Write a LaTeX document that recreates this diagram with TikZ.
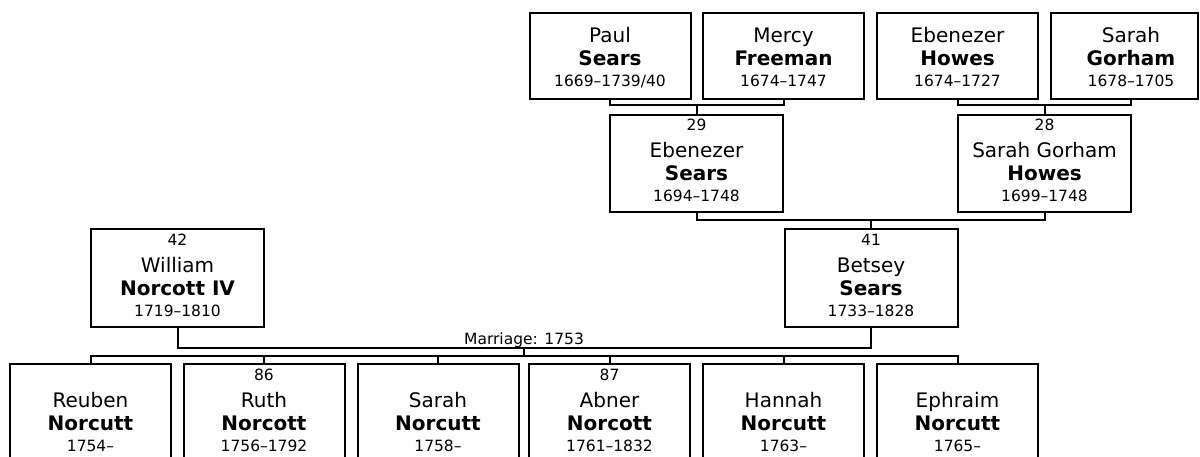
\documentclass[tikz,border=0pt]{standalone}
\usepackage{fontspec}
\setmainfont{DejaVu Sans}
\usepackage{tikz}

\newcommand{\smallsize}{\fontsize{15.5}{21}\selectfont}
\newcommand{\elder}[4][140pt]{\parbox[c][86pt][t]{#1}{\centering
		\fontsize{20}{23}\selectfont\rule{0pt}{29.5pt}#2\par
		\textbf{#3}\par
		\smallsize #4\par}}
\newcommand{\kin}[4]{\parbox[c][97pt][t]{150pt}{\centering
		\smallsize\rule{0pt}{16pt}#1\par
		\fontsize{20}{27}\selectfont #2\par
		\fontsize{20}{23}\selectfont\textbf{#3}\par
		\smallsize #4\par}}

\begin{document}
\begin{tikzpicture}[x=1pt,y=-1pt]
		\tikzset{person/.style={draw, line width=2pt, inner sep=0pt, minimum height=97pt, minimum width=173pt}}
		\tikzset{elderbox/.style={person, minimum height=86pt, minimum width=161pt}}
		\tikzset{childbox/.style={person, minimum width=161pt}}
		\tikzset{link/.style={line width=2pt}}
		\useasboundingbox (0,0) rectangle (1200,457);
		%grandparents
		\node[elderbox] (paul) at (610,56) {\elder{Paul}{Sears}{1669--1739/40}};
		\node[elderbox] (mercy) at (783.5,56) {\elder{Mercy}{Freeman}{1674--1747}};
		\node[elderbox] (ebenh) at (957.5,56) {\elder{Ebenezer}{Howes}{1674--1727}};
		\node[elderbox, minimum width=147pt] (sarahg) at (1124.5,56) {\hspace*{13pt}\elder[128pt]{Sarah}{Gorham}{1678--1705}};
		%parents
		\node[person] (ebens) at (696.5,163.5) {\kin{29}{Ebenezer}{Sears}{1694--1748}};
		\node[person] (sarahgh) at (1044.5,163.5) {\kin{28}{Sarah Gorham}{Howes}{1699--1748}};
		\node[person] (william) at (177.5,278) {\kin{42}{William}{Norcott IV}{1719--1810}};
		\node[person] (betsey) at (871,278) {\kin{41}{Betsey}{Sears}{1733--1828}};
		%children
		\node[childbox] (reuben) at (90.5,412.5) {\kin{}{Reuben}{Norcutt}{1754--}};
		\node[childbox] (ruth) at (264,412.5) {\kin{86}{Ruth}{Norcott}{1756--1792}};
		\node[childbox] (sarah) at (438,412.5) {\kin{}{Sarah}{Norcutt}{1758--}};
		\node[childbox] (abner) at (609.5,412.5) {\kin{87}{Abner}{Norcott}{1761--1832}};
		\node[childbox] (hannah) at (783.5,412.5) {\kin{}{Hannah}{Norcutt}{1763--}};
		\node[childbox] (ephraim) at (957.5,412.5) {\kin{}{Ephraim}{Norcutt}{1765--}};
		%junctions
		\coordinate (ps) at (696.5,105);
		\coordinate (hs) at (1044.5,105);
		\coordinate (sgfoot) at ([xshift=6.5pt]sarahg.south);
		\coordinate (bs) at (871,220);
		\coordinate (wed) at (524,348);
		\coordinate (kids) at (524,356);
		\node[anchor=base, inner sep=0pt, font=\smallsize] (wedding) at (524,344) {Marriage: 1753};
		%lines
		\draw[link] (paul.south) |- (ps) -| (mercy.south);
		\draw[link] (ps) -- (ebens.north);
		\draw[link] (ebenh.south) |- (hs) -| (sgfoot);
		\draw[link] (hs) -- (sarahgh.north);
		\draw[link] (ebens.south) |- (bs) -| (sarahgh.south);
		\draw[link] (bs) -- (betsey.north);
		\draw[link] (william.south) |- (wed) -| (betsey.south);
		\draw[link] (wed) -- (kids);
		\draw[link] (reuben.north) |- (kids) -| (ephraim.north);
		\foreach \c in {ruth, sarah, abner, hannah}
			\draw[link] (\c.north) -- (\c.north |- kids);
\end{tikzpicture}
\end{document}
